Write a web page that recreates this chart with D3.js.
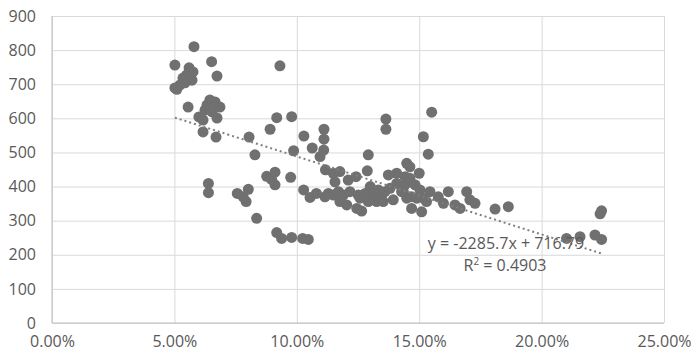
<html>

<head>
  <title>scatter with trendline</title>
  <style>
    body { margin: 0; background: #fff; }
    text { font-family: "Open Sans", sans-serif; fill: #595959; }
  </style>
</head>

<body>
  <script src="https://d3js.org/d3.v7.min.js"></script>
  <script>
    var xs = [
      0.0580, 0.0502, 0.0652, 0.0674, 0.0560, 0.0576, 0.0550, 0.0535, 0.0572, 0.0543,
      0.0523, 0.0502, 0.0510, 0.0556, 0.0645, 0.0666, 0.0633, 0.0686, 0.0625, 0.0654,
      0.0674, 0.0600, 0.0617, 0.0617, 0.0670, 0.0639, 0.0639,
      0.0805, 0.0829, 0.0757, 0.0802, 0.0793, 0.0781, 0.0836, 0.0877, 0.0911, 0.0911,
      0.0897, 0.0975, 0.0918, 0.0938, 0.0979, 0.1024, 0.1047, 0.0987, 0.0918, 0.0979,
      0.0891, 0.0931,
      0.1028, 0.1054, 0.1080, 0.1115, 0.1117, 0.1063, 0.1095, 0.1110, 0.1029, 0.1111,
      0.1111, 0.1149, 0.1176, 0.1156, 0.1129, 0.1149, 0.1170, 0.1190, 0.1176, 0.1204,
      0.1210, 0.1242, 0.1245, 0.1265, 0.1251, 0.1279, 0.1300, 0.1313, 0.1333, 0.1347,
      0.1360, 0.1381, 0.1374, 0.1408, 0.1449, 0.1442, 0.1435, 0.1394, 0.1326, 0.1353,
      0.1292, 0.1258, 0.1217, 0.1449, 0.1364, 0.1364, 0.1292, 0.1288,
      0.1551, 0.1517, 0.1537, 0.1462, 0.1500, 0.1462, 0.1408, 0.1442, 0.1483, 0.1428,
      0.1503, 0.1544, 0.1469, 0.1517, 0.1469, 0.1510, 0.1578, 0.1619, 0.1599, 0.1646,
      0.1667, 0.1694, 0.1707, 0.1728, 0.1810, 0.1864, 0.1490, 0.1530,
      0.2102, 0.2157, 0.2218, 0.2245, 0.2245, 0.2239
    ];
    var ys = [
      810, 756, 766, 724, 748, 736, 727, 718, 712, 704,
      698, 689, 685, 633, 654, 648, 639, 633, 624, 619,
      601, 604, 595, 560, 545, 409, 382,
      545, 493, 380, 392, 356, 370, 307, 430, 442, 405,
      421, 427, 265, 248, 251, 248, 245, 505, 602, 605,
      568, 754,
      390, 368, 380, 370, 449, 513, 488, 507, 548, 568,
      539, 439, 444, 414, 380, 375, 385, 375, 356, 346,
      419, 429, 336, 328, 375, 380, 400, 375, 390, 375,
      385, 395, 434, 439, 468, 429, 385, 361, 356, 356,
      356, 366, 385, 366, 598, 568, 493, 446,
      618, 546, 495, 458, 439, 424, 409, 405, 405, 385,
      390, 385, 370, 366, 336, 326, 370, 385, 351, 346,
      336, 385, 361, 351, 334, 341, 366, 356,
      248, 253, 258, 245, 329, 320
    ];
    var yTicks = [0, 100, 200, 300, 400, 500, 600, 700, 800, 900];
    var xTicks = [0, 0.05, 0.10, 0.15, 0.20, 0.25];
    var slope = -2285.7, intercept = 716.79, r2 = 0.4903;

    var data = xs.map(function (d, i) { return { x: d, y: ys[i] }; });

    var margin = { top: 16, right: 36, bottom: 40, left: 52 };
    var width = 700 - margin.left - margin.right;
    var height = 363 - margin.top - margin.bottom;

    var svg = d3.select("body")
      .append("svg")
      .attr("width", 700)
      .attr("height", 363)
      .append("g")
      .attr("transform", "translate(" + margin.left + "," + margin.top + ")");

    var x = d3.scaleLinear().domain([0, 0.25]).range([0, width]);
    var y = d3.scaleLinear().domain([0, 900]).range([height, 0]);

    // grid
    svg.append("g")
      .attr("class", "grid")
      .call(d3.axisLeft(y).tickValues(yTicks).tickSize(-width).tickFormat(""))
      .call(function (g) { g.select(".domain").remove(); })
      .selectAll("line").attr("stroke", "#d9d9d9");
    svg.append("g")
      .attr("class", "grid")
      .attr("transform", "translate(0," + height + ")")
      .call(d3.axisBottom(x).tickValues(xTicks).tickSize(-height).tickFormat(""))
      .call(function (g) { g.select(".domain").remove(); })
      .selectAll("line").attr("stroke", "#d9d9d9");

    // axis lines
    svg.append("line")
      .attr("x1", 0).attr("x2", width).attr("y1", height).attr("y2", height)
      .attr("stroke", "#bfbfbf");
    svg.append("line")
      .attr("x1", 0).attr("x2", 0).attr("y1", 0).attr("y2", height)
      .attr("stroke", "#bfbfbf");

    // tick labels
    var yAxis = svg.append("g")
      .call(d3.axisLeft(y).tickValues(yTicks).tickSize(0).tickPadding(16));
    yAxis.select(".domain").remove();
    yAxis.selectAll("text").style("font-size", "16px").attr("fill", "#595959");

    var xAxis = svg.append("g")
      .attr("transform", "translate(0," + height + ")")
      .call(d3.axisBottom(x).tickValues(xTicks).tickSize(0).tickPadding(13).tickFormat(d3.format(".2%")));
    xAxis.select(".domain").remove();
    xAxis.selectAll("text").style("font-size", "16px").attr("fill", "#595959");

    // points
    svg.selectAll(".dot")
      .data(data)
      .enter()
      .append("circle")
      .attr("class", "dot")
      .attr("cx", function (d) { return x(d.x); })
      .attr("cy", function (d) { return y(d.y); })
      .attr("r", 5.5)
      .attr("fill", "#707070");

    // linear trendline over the data range
    var xMin = d3.min(xs), xMax = d3.max(xs);
    svg.append("line")
      .attr("x1", x(xMin)).attr("y1", y(slope * xMin + intercept))
      .attr("x2", x(xMax)).attr("y2", y(slope * xMax + intercept))
      .attr("stroke", "#7f7f7f")
      .attr("stroke-width", 2)
      .attr("stroke-dasharray", "2,3");

    // equation label
    svg.append("text")
      .attr("x", 454)
      .attr("y", 233)
      .attr("text-anchor", "middle")
      .style("font-size", "16px")
      .text("y = " + slope + "x + " + intercept);
    var r2Text = svg.append("text")
      .attr("x", 453)
      .attr("y", 255)
      .attr("text-anchor", "middle")
      .style("font-size", "16px");
    r2Text.append("tspan").text("R");
    r2Text.append("tspan").attr("dy", -6).style("font-size", "10px").text("2");
    r2Text.append("tspan").attr("dy", 6).text(" = " + r2);
  </script>
</body>

</html>
